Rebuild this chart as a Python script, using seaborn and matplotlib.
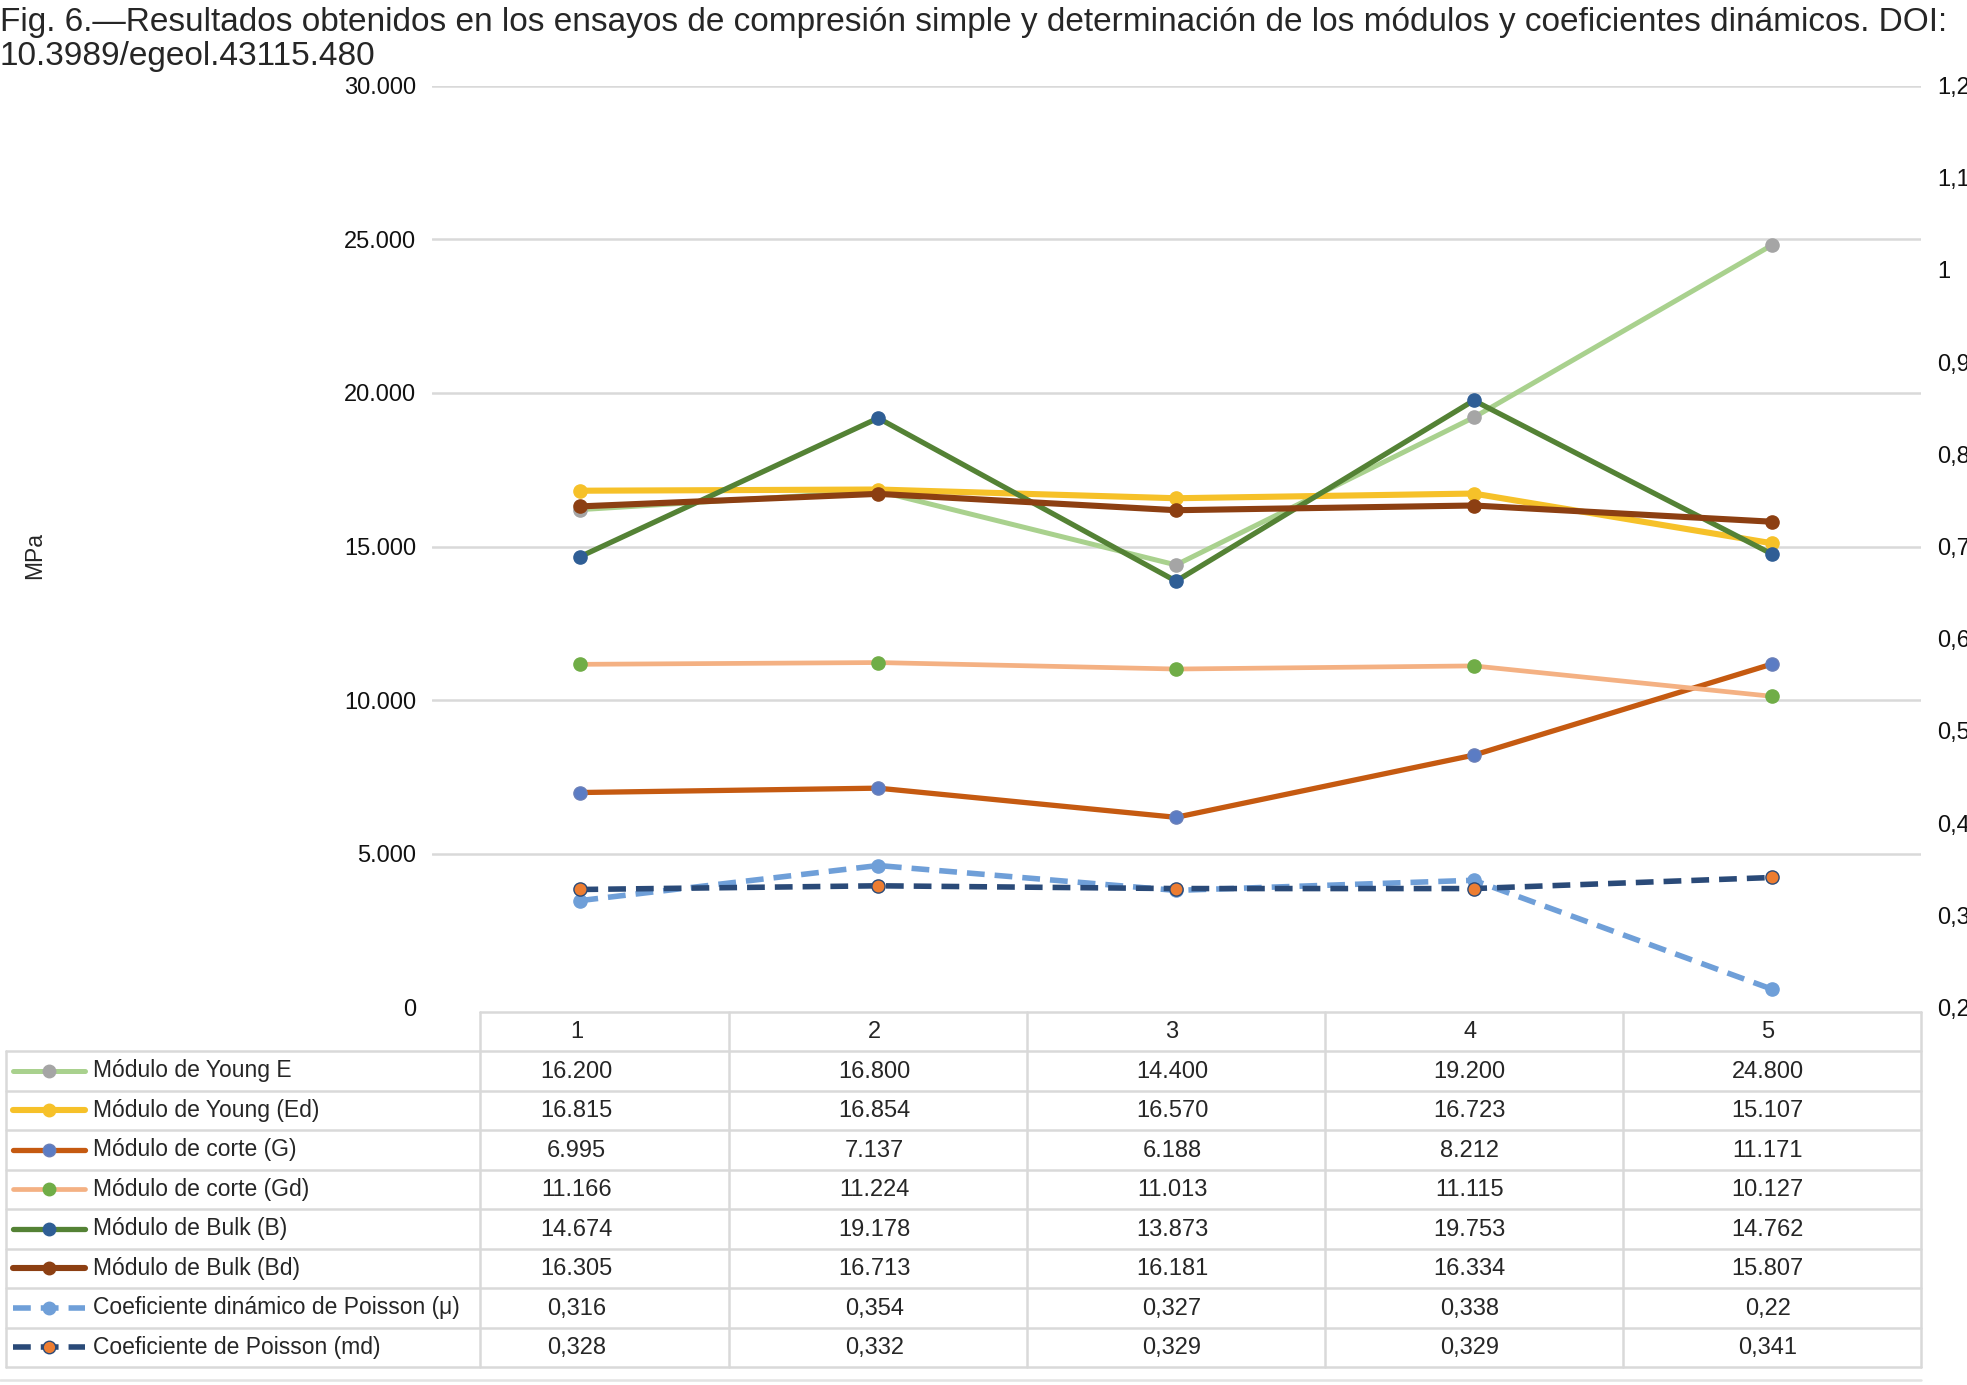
import numpy as np
import pandas as pd
import matplotlib
matplotlib.use("Agg")
import matplotlib.pyplot as plt
from matplotlib.ticker import FuncFormatter
import seaborn as sns

ensayos = [1, 2, 3, 4, 5]
young_e = [16200, 16800, 14400, 19200, 24800]
young_ed = [16815, 16854, 16570, 16723, 15107]
corte_g = [6995, 7137, 6188, 8212, 11171]
corte_gd = [11166, 11224, 11013, 11115, 10127]
bulk_b = [14674, 19178, 13873, 19753, 14762]
bulk_bd = [16305, 16713, 16181, 16334, 15807]
poisson_mu = [0.316, 0.354, 0.327, 0.338, 0.22]
poisson_md = [0.328, 0.332, 0.329, 0.329, 0.341]

nombres = ["Módulo de Young E", "Módulo de Young (Ed)", "Módulo de corte (G)",
           "Módulo de corte (Gd)", "Módulo de Bulk (B)", "Módulo de Bulk (Bd)",
           "Coeficiente dinámico de Poisson (μ)", "Coeficiente de Poisson (md)"]
valores = [young_e, young_ed, corte_g, corte_gd, bulk_b, bulk_bd, poisson_mu, poisson_md]

titulo1 = ("Fig. 6.\u2014Resultados obtenidos en los ensayos de compresión simple y "
           "determinación de los módulos y coeficientes dinámicos. DOI:")
titulo2 = "10.3989/egeol.43115.480"

# estilo: (color linea, relleno marcador, borde marcador, grosor, discontinua, eje secundario)
estilos = [
    ("#a9d18e", "#a5a5a5", "#a5a5a5", 3.6, False, False),
    ("#f6c129", "#f6c129", "#f6c129", 4.4, False, False),
    ("#c55a11", "#5b7cc4", "#6a7fb8", 3.8, False, False),
    ("#f4b183", "#70ad47", "#70ad47", 3.4, False, False),
    ("#548235", "#2f5e95", "#2f5e95", 3.8, False, False),
    ("#8c3f12", "#8c3f12", "#8c3f12", 4.4, False, False),
    ("#6f9fd8", "#6f9fd8", "#6f9fd8", 4.0, True, True),
    ("#2a4a78", "#ed7d31", "#2a4a78", 4.0, True, True),
]

sns.set_style("white")
plt.rcParams['font.family'] = ['Liberation Sans', 'DejaVu Sans']

W, H = 1967, 1385
fig = plt.figure(figsize=(W / 100, H / 100), dpi=100)

AX_L, AX_R = 431.5, 1920.5
AX_T, AX_B = 85.5, 1007.5
ax = fig.add_axes([AX_L / W, 1 - AX_B / H, (AX_R - AX_L) / W, (AX_B - AX_T) / H])
ax2 = ax.twinx()

for nombre, vals, est in zip(nombres, valores, estilos):
    lc, mf, me, lw, dashed, sec = est
    target = ax2 if sec else ax
    sns.lineplot(x=ensayos, y=vals, ax=target, color=lc, marker="o", markersize=9.5,
                 markerfacecolor=mf, markeredgecolor=me, markeredgewidth=1,
                 linewidth=lw, legend=False)
    if dashed:
        target.lines[-1].set_dashes((3.2, 1.8))

ax.set_xlim(0.5, 5.5)
ax.set_ylim(0, 30000)
ax.set_yticks(np.arange(0, 30001, 5000))
ax.yaxis.set_major_formatter(FuncFormatter(lambda v, p: f"{v:,.0f}".replace(",", ".")))
ax.set_xticks([])
ax.set_xlabel("")
ax.set_ylabel("")
ax.yaxis.grid(True, color="#d9d9d9", linewidth=1.8)
ax.set_axisbelow(True)
ax.get_ygridlines()[0].set_visible(False)
ax.tick_params(axis="y", length=0, pad=11, labelsize=17, labelcolor="#111111")

ax2.set_ylim(0.2, 1.2)
ax2.set_yticks(np.round(np.arange(0.2, 1.21, 0.1), 1))
ax2.yaxis.set_major_formatter(FuncFormatter(lambda v, p: ("%g" % round(v, 3)).replace(".", ",")))
ax2.grid(False)
ax2.set_ylabel("")
ax2.tick_params(axis="y", length=0, pad=12, labelsize=17, labelcolor="#111111")

for a in (ax, ax2):
    for s in a.spines.values():
        s.set_visible(False)

fig.text(0.0, 1 - 23 / H, titulo1, ha="left", va="center", fontsize=24)
fig.text(0.0, 1 - 56 / H, titulo2, ha="left", va="center", fontsize=24)
fig.text(35 / W, 1 - 556 / H, "MPa", rotation=90, ha="center", va="center", fontsize=16.5)

# tabla de datos bajo el grafico
tab = fig.add_axes([0, 0, 1, 1])
tab.set_xlim(0, W)
tab.set_ylim(H, 0)
tab.axis("off")

gris = "#d9d9d9"
TOP, HEAD_B, ROW_H = 1012, 1051, 39.5
LEG_L, LEG_R = 6, 480
n_rows = len(nombres)
BOT = HEAD_B + n_rows * ROW_H
col_w = (AX_R - AX_L) / len(ensayos)

tab.plot([LEG_R, AX_R], [TOP, TOP], color=gris, lw=1.8)
for k in range(n_rows + 1):
    y = HEAD_B + k * ROW_H
    tab.plot([LEG_L, AX_R], [y, y], color=gris, lw=1.8)
tab.plot([LEG_L, LEG_L], [HEAD_B, BOT], color=gris, lw=1.8)
for xb in [LEG_R] + [AX_L + k * col_w for k in range(1, len(ensayos) + 1)]:
    tab.plot([xb, xb], [TOP, BOT], color=gris, lw=1.8)
tab.plot([0, AX_R], [1380, 1380], color="#e3e3e3", lw=1.8)


def fmt_val(v):
    if v < 1:
        return ("%g" % v).replace(".", ",")
    return f"{v:,.0f}".replace(",", ".")


for i, e in enumerate(ensayos):
    xc = AX_L + (e - 0.5) * col_w - 4
    tab.text(xc, (TOP + HEAD_B) / 2 + 1, str(e), ha="center", va="center", fontsize=17)
    for r, vals in enumerate(valores):
        yc = HEAD_B + (r + 0.5) * ROW_H + 1
        tab.text(xc, yc, fmt_val(vals[i]), ha="center", va="center", fontsize=17)

for r, (nombre, est) in enumerate(zip(nombres, estilos)):
    lc, mf, me, lw, dashed, sec = est
    yc = HEAD_B + (r + 0.5) * ROW_H
    ln, = tab.plot([13, 85], [yc, yc], color=lc, lw=lw)
    if dashed:
        ln.set_dashes((3.2, 1.8))
    tab.plot([49], [yc], marker="o", markersize=9, markerfacecolor=mf,
             markeredgecolor=me, markeredgewidth=1, linestyle="none")
    tab.text(93, yc, nombre, ha="left", va="center", fontsize=16.5)

fig.savefig("out.png", dpi=100)
